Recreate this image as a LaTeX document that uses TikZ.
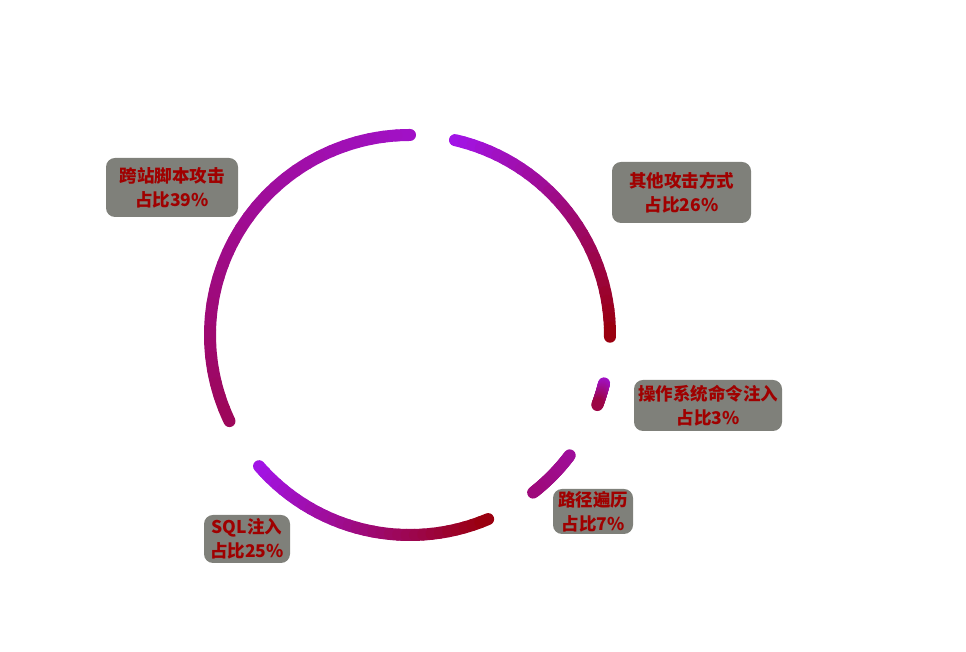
\documentclass[tikz,border=0pt]{standalone}
\usepackage{fontspec}
\newfontfamily\cjk{Noto Sans CJK SC}
\usepackage{tikz}

\definecolor{arcpurple}{HTML}{A214E6}
\definecolor{arcred}{HTML}{9A0010}
\definecolor{boxgray}{HTML}{7F807A}
\definecolor{labelred}{HTML}{A00000}

\tikzset{
  arc seg/.style={line width=12pt, line cap=round},
  label box/.style={fill=boxgray, rounded corners=9pt, text=labelred, align=center,
    inner sep=0pt, font=\cjk\bfseries\fontsize{17.5pt}{24pt}\selectfont},
}

\begin{document}
\begin{tikzpicture}[x=1pt, y=1pt]
  \useasboundingbox (0,0) rectangle (966,652);

  % Centre of the ring
  \coordinate (c) at (410,317);

  % Arcs
  \foreach \a/\b/\cs/\ce in {77/-0.5/arcpurple/arcred,
      -14/-20.5/arcpurple!85!arcred/arcpurple!25!arcred,
      -37/-52/arcpurple!65!arcred/arcpurple!50!arcred,
      221/293/arcpurple/arcred,
      90/205.5/arcpurple!85!arcred/arcpurple!35!arcred} {
    \colorlet{arcbeg}{\cs}
    \colorlet{arcend}{\ce}
    \foreach \i in {0,...,29} {
      \pgfmathsetmacro\s{\a+(\b-\a)*\i/30}
      \pgfmathsetmacro\e{\a+(\b-\a)*(\i+1)/30}
      \pgfmathtruncatemacro\p{100*\i/29}
      \draw[arc seg, draw=arcend!\p!arcbeg] (c) ++(\s:200pt) arc[start angle=\s, end angle=\e, radius=200pt];
    }
  }

  % Labels
  \node (xss) [label box, minimum width=132pt, minimum height=59pt] at (172,464.5) {跨站脚本攻击\\占比39\%};
  \node (other) [label box, minimum width=139pt, minimum height=61pt] at (681.5,459.5) {其他攻击方式\\占比26\%};
  \node (oscmd) [label box, minimum width=148pt, minimum height=51pt] at (708,246.5) {操作系统命令注入\\占比3\%};
  \node (path) [label box, minimum width=80pt, minimum height=45pt] at (593,140.5) {路径遍历\\占比7\%};
  \node (sqli) [label box, minimum width=86pt, minimum height=48pt] at (247,113) {SQL注入\\占比25\%};

\end{tikzpicture}
\end{document}
